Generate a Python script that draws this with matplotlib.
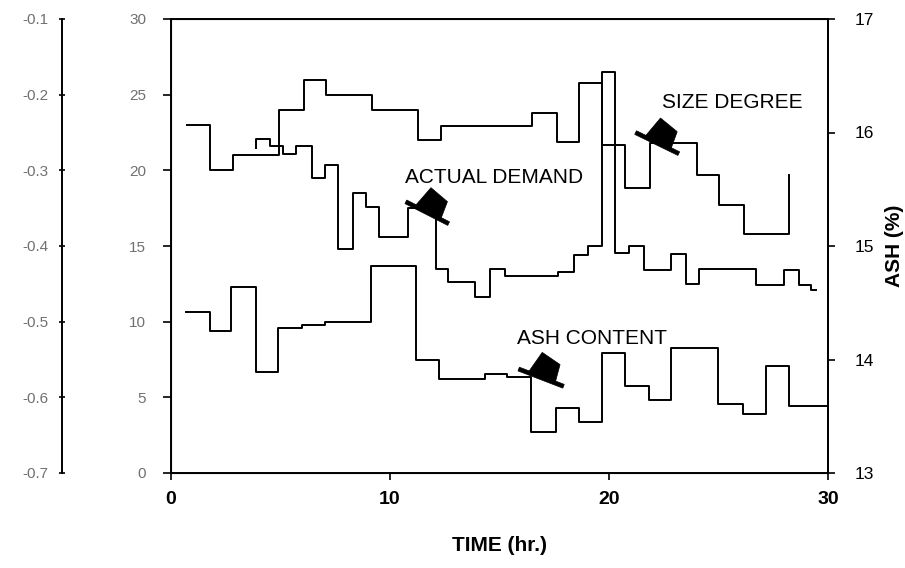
import numpy as np
import matplotlib
matplotlib.use("Agg")
import matplotlib.pyplot as plt
from matplotlib.patches import Polygon
import matplotlib.transforms as mtransforms

plt.rcParams["font.family"] = ["Liberation Sans", "DejaVu Sans"]

# step series, times in hr. at which the level changes
size_t = [0.74, 1.80, 2.84, 4.95, 6.06, 7.09, 9.19, 11.27, 12.34, 16.49, 17.63,
          18.65, 19.68, 20.75, 21.86, 24.00, 25.01, 26.16, 28.24]
size_v = [23.0, 20.0, 21.0, 24.0, 26.0, 25.0, 24.0, 22.0, 22.9, 23.8, 21.9,
          25.8, 21.7, 18.8, 21.8, 19.7, 17.7, 15.8, 19.7]

demand_t = [3.90, 3.90, 4.54, 5.10, 5.73, 6.45, 7.02, 7.62, 8.32, 8.91, 9.52,
            10.81, 12.08, 12.65, 13.90, 14.56, 15.25, 17.68, 18.39, 19.06,
            19.68, 20.27, 20.93, 21.59, 22.84, 23.53, 24.12, 26.72, 27.98,
            28.67, 29.23, 29.43]
demand_v = [21.5, 22.05, 21.6, 21.1, 21.6, 19.5, 20.35, 14.8, 18.5, 17.55, 15.6,
            17.5, 13.5, 12.6, 11.6, 13.5, 13.0, 13.3, 14.4, 15.0,
            26.5, 14.56, 15.0, 13.4, 14.5, 12.5, 13.45, 12.45, 13.4,
            12.45, 12.1, 12.1]

ash_t = [0.69, 1.76, 2.76, 3.86, 4.88, 5.99, 7.02, 9.14, 11.21, 12.23, 14.36,
         15.35, 16.45, 17.56, 18.62, 19.69, 20.71, 21.82, 22.85, 24.97, 26.13,
         27.15, 28.21, 29.96]
ash_v = [14.42, 14.25, 14.64, 13.89, 14.28, 14.30, 14.33, 14.82, 14.00, 13.83,
         13.87, 13.85, 13.36, 13.57, 13.45, 14.06, 13.77, 13.64, 14.10, 13.61,
         13.52, 13.94, 13.59, 13.59]

left_ticks = [0, 5, 10, 15, 20, 25, 30]
outer_ticks = [-0.7, -0.6, -0.5, -0.4, -0.3, -0.2, -0.1]
outer_labels = ["-0.7", "-0.6", "-0.5", "-0.4", "-0.3", "-0.2", "-0.1"]
ash_ticks = [13, 14, 15, 16, 17]
time_ticks = [0, 10, 20, 30]

# (label, text x, text y, hat x, hat y, hat angle) on the left scale
notes = [
    ("ACTUAL DEMAND", 10.7, 19.5, 11.7, 17.2, -27),
    ("SIZE DEGREE", 22.4, 24.5, 22.2, 21.8, -26),
    ("ASH CONTENT", 15.8, 8.9, 16.9, 6.3, -21),
]

fig = plt.figure(figsize=(9.05, 5.68), dpi=100)
ax = fig.add_axes([171 / 905, 95 / 568, 657 / 905, 454 / 568])
lw = 1.4

ax.plot(size_t, size_v, drawstyle="steps-post", color="black", lw=lw)
ax.plot(demand_t, demand_v, drawstyle="steps-post", color="black", lw=lw)
ax.set_xlim(0, 30)
ax.set_ylim(0, 30)
ax.set_xticks(time_ticks)
ax.set_xticklabels([str(t) for t in time_ticks], fontsize=14, fontweight="bold")
ax.set_yticks(left_ticks)
ax.set_yticklabels([str(t) for t in left_ticks], fontsize=11, color="#707070")
ax.tick_params(axis="x", direction="out", length=5, width=1.2, pad=8)
ax.tick_params(axis="y", direction="out", length=6, width=1.2, pad=12)
ax.set_xlabel("TIME (hr.)", fontsize=15, fontweight="bold", labelpad=20)
for s in ax.spines.values():
    s.set_linewidth(1.4)

# ash content against the right-hand scale
axr = ax.twinx()
axr.plot(ash_t, ash_v, drawstyle="steps-post", color="black", lw=lw)
axr.set_ylim(13, 17)
axr.set_yticks(ash_ticks)
axr.set_yticklabels([str(t) for t in ash_ticks], fontsize=12.5)
axr.tick_params(axis="y", direction="out", length=5, width=1.2, pad=14)
axr.set_ylabel("ASH (%)", fontsize=15, fontweight="bold", labelpad=8)
axr.spines["right"].set_linewidth(1.4)

# extra scale at the far left
axo = ax.twinx()
axo.set_ylim(-0.7, -0.1)
axo.spines["right"].set_visible(False)
axo.spines["top"].set_visible(False)
axo.spines["bottom"].set_visible(False)
axo.spines["left"].set_visible(True)
axo.spines["left"].set_position(("axes", -109 / 657))
axo.spines["left"].set_linewidth(1.4)
axo.yaxis.set_ticks_position("left")
axo.set_yticks(outer_ticks)
axo.set_yticklabels(outer_labels, fontsize=11, color="#707070")
axo.tick_params(axis="y", direction="inout", length=5, width=1.2, pad=7)

# hat-shaped pointers, shapes in inches around an anchor on the data
crown = [(-0.14, 0.0), (0.15, 0.0), (0.13, 0.19), (-0.08, 0.24)]
brim = [(-0.24, 0.02), (0.24, 0.02), (0.24, -0.02), (-0.24, -0.02)]
for label, tx, ty, hx, hy, ang in notes:
    ax.text(tx, ty, label, fontsize=15, va="center", ha="left")
    trans = (mtransforms.Affine2D().rotate_deg(ang) + fig.dpi_scale_trans
             + mtransforms.ScaledTranslation(hx, hy, ax.transData))
    for shape in (crown, brim):
        ax.add_patch(Polygon(shape, closed=True, facecolor="black",
                             edgecolor="black", lw=0.5, transform=trans,
                             clip_on=False))

fig.savefig("out.png", dpi=100)
